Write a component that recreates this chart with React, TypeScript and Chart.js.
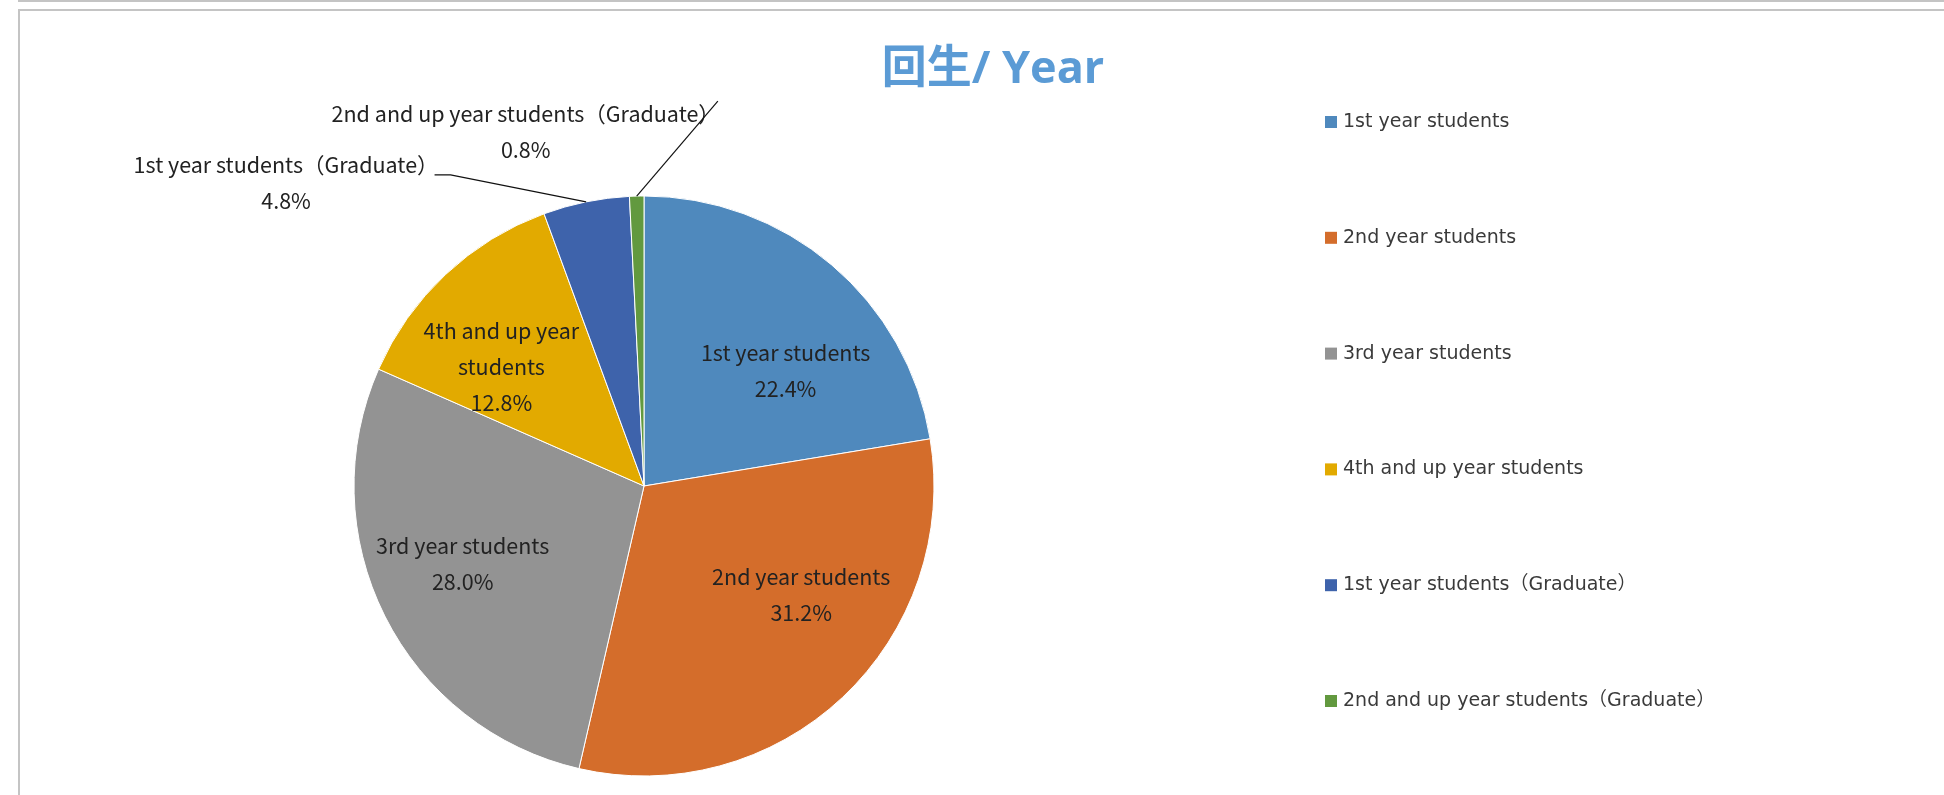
import React, { useEffect, useRef } from "react";
import { Chart, registerables } from "chart.js";

Chart.register(...registerables);

// ---------- data ----------
const chartTitle = "回生/ Year";
const categories = [
  "1st year students",
  "2nd year students",
  "3rd year students",
  "4th and up year students",
  "1st year students（Graduate）",
  "2nd and up year students（Graduate）",
];
const studentCounts = [28, 39, 35, 16, 6, 1];
const insideLabelLines = [
  ["1st year students"],
  ["2nd year students"],
  ["3rd year students"],
  ["4th and up year", "students"],
  ["1st year students（Graduate）"],
  ["2nd and up year students（Graduate）"],
];

// ---------- styles ----------
const sliceColors = ["#4F89BD", "#D46D2B", "#939393", "#E2AA00", "#3E63AB", "#62993F"];
const TITLE_COLOR = "#5B9BD5";
const LABEL_COLOR = "#222222";
const LEGEND_COLOR = "#3A3A3A";
const LABEL_FONT = "21.5px 'Noto Sans CJK JP', 'Noto Sans', sans-serif";
const LEGEND_FONT = "19px 'DejaVu Sans', 'Noto Sans CJK JP', sans-serif";
const TITLE_FONT = "bold 45px 'Open Sans', 'Noto Sans CJK JP', sans-serif";
// label placement (inside: radius fraction and angle nudge in degrees; outside: offset from slice edge)
const insidePlacement = [
  { frac: 0.63, nudge: 10.5 },
  { frac: 0.66, nudge: -12 },
  { frac: 0.68, nudge: 3.5 },
  { frac: 0.64, nudge: -7 },
];
const outsidePlacement: Record<number, { dx: number; dy: number; lead: "side" | "top" }> = {
  4: { dx: -300, dy: -19, lead: "side" },
  5: { dx: -111, dy: -64, lead: "top" },
};

const overlayPlugin = {
  id: "overlay",
  afterDraw(chart: any) {
    const ctx = chart.ctx as CanvasRenderingContext2D;
    const data = chart.data.datasets[0].data as number[];
    const colors = chart.data.datasets[0].backgroundColor as string[];
    const labels = chart.data.labels as string[];
    const total = data.reduce((a, b) => a + b, 0);
    const meta = chart.getDatasetMeta(0);

    ctx.save();
    // title
    ctx.font = TITLE_FONT;
    ctx.fillStyle = TITLE_COLOR;
    ctx.textAlign = "center";
    ctx.textBaseline = "middle";
    ctx.fillText(chartTitle, 993, 70);

    // legend
    ctx.font = LEGEND_FONT;
    ctx.textAlign = "left";
    labels.forEach((lab, i) => {
      const y = 122 + i * 115.8;
      ctx.fillStyle = colors[i];
      ctx.fillRect(1325, y - 6, 12, 12);
      ctx.fillStyle = LEGEND_COLOR;
      ctx.fillText(lab, 1343, y);
    });

    // data labels
    ctx.font = LABEL_FONT;
    ctx.textAlign = "center";
    const lineH = 36;
    meta.data.forEach((arc: any, i: number) => {
      const p = arc.getProps(["x", "y", "startAngle", "endAngle", "outerRadius"], true);
      const mid = (p.startAngle + p.endAngle) / 2;
      const pct = ((data[i] / total) * 100).toFixed(1) + "%";
      const lines = [...insideLabelLines[i], pct];
      if (i < insidePlacement.length) {
        const pl = insidePlacement[i];
        const a = mid + (pl.nudge * Math.PI) / 180;
        const cx = p.x + Math.cos(a) * p.outerRadius * pl.frac;
        const cy = p.y + Math.sin(a) * p.outerRadius * pl.frac;
        const y0 = cy - ((lines.length - 1) * lineH) / 2;
        ctx.fillStyle = LABEL_COLOR;
        lines.forEach((t, k) => ctx.fillText(t, cx, y0 + k * lineH));
      } else {
        const op = outsidePlacement[i];
        const ex = p.x + Math.cos(mid) * p.outerRadius;
        const ey = p.y + Math.sin(mid) * p.outerRadius;
        const cx = ex + op.dx;
        const cy = ey + op.dy;
        const y0 = cy - ((lines.length - 1) * lineH) / 2;
        ctx.fillStyle = LABEL_COLOR;
        lines.forEach((t, k) => ctx.fillText(t, cx, y0 + k * lineH));
        const w = ctx.measureText(lines[0]).width;
        const right = cx + w / 2;
        ctx.strokeStyle = "#111111";
        ctx.lineWidth = 1.2;
        ctx.beginPath();
        if (op.lead === "side") {
          ctx.moveTo(right - 4, y0 + 10);
          ctx.lineTo(right + 12, y0 + 10);
          ctx.lineTo(ex, ey);
        } else {
          ctx.moveTo(right - 2, y0 - 13);
          ctx.lineTo(ex, ey);
        }
        ctx.stroke();
      }
    });
    ctx.restore();
  },
};

export default function App() {
  const ref = useRef<HTMLCanvasElement | null>(null);
  useEffect(() => {
    if (!ref.current) return;
    const chart = new Chart(ref.current, {
      type: "pie",
      data: {
        labels: categories,
        datasets: [
          {
            data: studentCounts,
            backgroundColor: sliceColors,
            borderColor: "#ffffff",
            borderWidth: 1,
            radius: 290,
          } as any,
        ],
      },
      options: {
        responsive: false,
        animation: false,
        layout: { padding: { left: 0, right: 656, top: 177, bottom: 0 } },
        plugins: {
          legend: { display: false },
          tooltip: { enabled: false },
          title: { display: false },
        },
      },
      plugins: [overlayPlugin],
    });
    return () => chart.destroy();
  }, []);

  return (
    <div style={{ position: "fixed", left: 0, top: 0, width: 1944, height: 795, background: "#ffffff", overflow: "hidden" }}>
      <canvas ref={ref} width={1944} height={795} style={{ position: "absolute", left: 0, top: 0, width: 1944, height: 795 }} />
      <div style={{ position: "absolute", left: 18, top: 0, width: 1926, height: 2, background: "#c4c4c4" }} />
      <div style={{ position: "absolute", left: 18, top: 9, width: 1926, height: 2, background: "#c4c4c4" }} />
      <div style={{ position: "absolute", left: 18, top: 9, width: 2, height: 786, background: "#c4c4c4" }} />
    </div>
  );
}
